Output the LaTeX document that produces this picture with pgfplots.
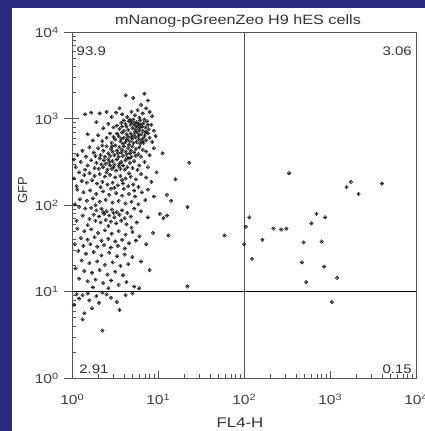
\documentclass[border=0pt]{standalone}
\usepackage{fontspec}
\setmainfont{Liberation Sans}[FakeStretch=1.2]
\newfontfamily\plainsans{Liberation Sans}
\usepackage{pgfplots}
\usepackage{pgfplotstable}
\pgfplotsset{compat=1.18}
\definecolor{bgblue}{RGB}{42,42,128}
\definecolor{dotblue}{RGB}{62,62,140}
\definecolor{halo}{RGB}{225,228,170}
\definecolor{axgray}{RGB}{85,85,85}

% values in decades (log10 of FL4-H and GFP)
\pgfplotstableread{
x y
0.62 3.27
0.71 3.24
0.84 3.29
0.88 3.21
0.80 3.16
0.86 3.12
0.76 3.10
0.69 3.08
0.58 3.05
0.64 3.02
0.73 3.04
0.82 3.06
0.90 3.08
0.51 3.07
0.40 3.08
0.32 3.06
0.22 3.07
0.15 3.05
0.46 3.02
0.78 3.01
0.93 3.03
0.55 3.12
0.60 2.98
0.66 2.97
0.71 2.99
0.75 2.96
0.79 2.98
0.83 2.95
0.87 2.97
0.68 2.93
0.73 2.92
0.77 2.94
0.81 2.91
0.85 2.90
0.63 2.91
0.57 2.95
0.52 2.92
0.70 2.89
0.74 2.88
0.78 2.87
0.82 2.86
0.89 2.88
0.65 2.87
0.60 2.86
0.55 2.88
0.48 2.90
0.42 2.94
0.92 2.93
0.76 2.91
0.72 2.95
0.80 2.93
0.84 2.99
0.67 2.99
0.62 2.94
0.88 2.93
0.36 2.89
0.28 2.96
0.95 2.86
0.58 2.91
0.69 2.96
0.86 2.85
0.79 2.90
0.58 2.84
0.63 2.82
0.68 2.83
0.72 2.81
0.76 2.84
0.80 2.82
0.84 2.80
0.88 2.83
0.54 2.80
0.60 2.78
0.65 2.79
0.70 2.77
0.74 2.78
0.78 2.76
0.82 2.77
0.86 2.75
0.50 2.76
0.56 2.74
0.62 2.73
0.67 2.74
0.71 2.72
0.75 2.73
0.79 2.71
0.83 2.72
0.46 2.72
0.40 2.78
0.35 2.74
0.30 2.81
0.44 2.83
0.90 2.78
0.93 2.73
0.66 2.70
0.59 2.71
0.52 2.83
0.73 2.85
0.81 2.74
0.64 2.76
0.77 2.80
0.69 2.79
0.85 2.84
0.57 2.77
0.24 2.75
0.18 2.82
0.97 2.80
0.48 2.79
0.50 2.69
0.55 2.67
0.60 2.68
0.65 2.66
0.70 2.68
0.74 2.65
0.78 2.67
0.82 2.64
0.45 2.65
0.40 2.68
0.36 2.63
0.42 2.60
0.47 2.62
0.52 2.63
0.57 2.61
0.62 2.62
0.67 2.60
0.72 2.61
0.77 2.59
0.86 2.62
0.30 2.66
0.25 2.61
0.33 2.58
0.38 2.56
0.44 2.57
0.49 2.58
0.54 2.56
0.59 2.57
0.64 2.55
0.69 2.56
0.74 2.57
0.80 2.56
0.90 2.58
0.20 2.67
0.12 2.63
0.06 2.58
0.16 2.56
0.58 2.64
0.63 2.59
0.46 2.68
0.68 2.63
0.53 2.60
0.35 2.69
0.95 2.66
0.27 2.57
0.32 2.54
0.37 2.52
0.42 2.53
0.47 2.51
0.52 2.53
0.57 2.50
0.62 2.52
0.67 2.49
0.72 2.51
0.28 2.49
0.34 2.47
0.39 2.48
0.44 2.46
0.49 2.47
0.54 2.45
0.59 2.46
0.64 2.44
0.22 2.52
0.18 2.46
0.10 2.50
0.04 2.44
0.26 2.43
0.31 2.42
0.36 2.44
0.41 2.41
0.46 2.42
0.51 2.40
0.56 2.42
0.61 2.41
0.70 2.43
0.78 2.46
0.84 2.50
0.88 2.44
0.15 2.41
0.43 2.50
0.55 2.48
0.48 2.44
0.66 2.54
0.76 2.41
0.02 2.53
0.08 2.38
0.14 2.35
0.20 2.37
0.26 2.34
0.32 2.36
0.38 2.33
0.44 2.35
0.50 2.32
0.56 2.34
0.62 2.31
0.68 2.33
0.74 2.30
0.80 2.36
0.86 2.32
0.11 2.28
0.17 2.26
0.23 2.29
0.29 2.25
0.35 2.27
0.41 2.24
0.47 2.26
0.53 2.23
0.59 2.25
0.65 2.22
0.71 2.24
0.77 2.21
0.05 2.22
0.92 2.27
0.98 2.38
0.40 2.38
0.58 2.29
0.33 2.21
0.49 2.20
0.02 2.31
0.66 2.37
0.06 2.18
0.13 2.15
0.21 2.17
0.28 2.13
0.36 2.16
0.43 2.12
0.51 2.14
0.58 2.11
0.66 2.13
0.73 2.10
0.81 2.15
0.88 2.18
0.09 2.07
0.17 2.05
0.24 2.08
0.32 2.04
0.39 2.06
0.47 2.03
0.54 2.05
0.62 2.02
0.69 2.04
0.77 2.01
0.85 2.06
0.03 2.01
0.95 2.10
0.45 2.19
0.60 2.19
0.27 2.00
1.10 2.12
0.72 2.17
0.08 1.98
0.15 1.96
0.22 1.97
0.28 1.94
0.34 1.96
0.40 1.93
0.46 1.95
0.52 1.92
0.58 1.94
0.64 1.91
0.72 1.96
0.80 1.93
0.25 1.89
0.31 1.87
0.37 1.90
0.43 1.88
0.49 1.86
0.55 1.89
0.61 1.85
0.68 1.87
0.20 1.84
0.27 1.82
0.33 1.80
0.39 1.83
0.45 1.81
0.51 1.79
0.57 1.82
0.63 1.78
0.12 1.88
0.05 1.82
0.88 1.86
1.02 1.90
1.06 1.85
1.10 1.88
0.75 1.80
0.42 1.76
0.36 1.92
0.48 1.91
1.34 1.98
0.18 1.77
0.06 1.73
0.14 1.70
0.22 1.72
0.30 1.68
0.38 1.71
0.46 1.67
0.54 1.70
0.62 1.66
0.70 1.69
0.78 1.64
0.10 1.62
0.18 1.60
0.26 1.63
0.34 1.59
0.42 1.61
0.50 1.58
0.58 1.60
0.66 1.56
0.74 1.59
0.03 1.55
0.13 1.53
0.21 1.55
0.29 1.52
0.37 1.54
0.45 1.51
0.53 1.53
0.61 1.50
0.86 1.55
0.94 1.68
0.69 1.74
0.07 1.47
0.16 1.44
0.25 1.46
0.34 1.42
0.43 1.45
0.52 1.41
0.61 1.43
0.70 1.40
0.11 1.36
0.20 1.33
0.29 1.35
0.38 1.31
0.47 1.34
0.56 1.30
0.65 1.32
0.80 1.35
0.04 1.27
0.14 1.24
0.23 1.22
0.32 1.25
0.41 1.20
0.50 1.23
0.59 1.19
0.08 1.15
0.18 1.12
0.27 1.14
0.36 1.10
0.45 1.13
0.54 1.08
0.63 1.11
0.24 1.05
0.42 1.04
0.72 1.06
0.90 1.25
1.36 2.49
1.12 1.65
1.20 2.30
1.05 2.60
1.15 2.05
1.77 1.65
0.78 1.04
1.34 1.06
}\ulpts

\pgfplotstableread{
x y
2.52 2.37
3.24 2.27
3.19 2.21
3.33 2.13
2.06 1.86
2.84 1.90
2.94 1.86
2.78 1.79
2.02 1.75
2.34 1.73
2.43 1.72
2.49 1.73
2.21 1.60
2.00 1.55
2.69 1.57
2.90 1.58
2.09 1.38
2.67 1.34
2.93 1.29
3.08 1.16
2.72 1.11
3.60 2.25
}\urpts

\pgfplotstableread{
x y
0.12 0.96
0.20 0.90
0.23 0.81
0.31 0.87
0.14 0.75
0.12 0.68
0.35 0.55
0.52 0.88
0.55 0.79
0.05 0.97
0.08 0.92
0.28 0.95
0.40 0.97
0.18 0.98
0.62 0.96
0.45 0.93
0.02 0.85
0.35 0.99
0.70 0.98
3.02 0.88
}\lowpts

\begin{document}
\begin{tikzpicture}[x=1pt,y=1pt]
\useasboundingbox (0,0) rectangle (425,431);
\fill[bgblue] (0,0) rectangle (425,431);
\fill[white] (12,0) rectangle (425,423);
\begin{axis}[
  at={(84,61)}, anchor=south west,
  scale only axis, width=344pt, height=346pt,
  xmin=0, xmax=4, ymin=0, ymax=4,
  axis line style={axgray, line width=1pt},
  xtick={0,1,2,3,4}, ytick={0,1,2,3,4},
  xticklabels={10\textsuperscript{0},10\textsuperscript{1},10\textsuperscript{2},10\textsuperscript{3},10\textsuperscript{4}},
  yticklabels={10\textsuperscript{0},10\textsuperscript{1},10\textsuperscript{2},10\textsuperscript{3},10\textsuperscript{4}},
  minor xtick={0.301,0.477,0.602,0.699,0.778,0.845,0.903,0.954,
    1.301,1.477,1.602,1.699,1.778,1.845,1.903,1.954,
    2.301,2.477,2.602,2.699,2.778,2.845,2.903,2.954,
    3.301,3.477,3.602,3.699,3.778,3.845,3.903,3.954},
  minor ytick={0.301,0.477,0.602,0.699,0.778,0.845,0.903,0.954,
    1.301,1.477,1.602,1.699,1.778,1.845,1.903,1.954,
    2.301,2.477,2.602,2.699,2.778,2.845,2.903,2.954,
    3.301,3.477,3.602,3.699,3.778,3.845,3.903,3.954},
  tick align=inside, xtick pos=left, ytick pos=left,
  major tick length=7pt, minor tick length=4pt,
  tick style={axgray, line width=0.8pt},
  ticklabel style={font=\fontsize{13}{15}\selectfont, text=black!75},
  yticklabel style={xshift=-10pt},
  xticklabel style={yshift=-12pt},
  extra y ticks={0,1,2,3,4}, extra y tick labels={},
  extra y tick style={tick align=outside, major tick length=8pt},
]
\draw[gray!65!black, line width=1pt] (axis cs:2,0) -- (axis cs:2,4);
\draw[black, line width=1.3pt] (axis cs:0,1) -- (axis cs:4,1);
\addplot[only marks, mark=*, mark size=1.8pt, mark options={draw=none, fill=halo, fill opacity=0.35}] table {\ulpts};
\addplot[only marks, mark=*, mark size=1.8pt, mark options={draw=none, fill=halo, fill opacity=0.35}] table {\urpts};
\addplot[only marks, mark=*, mark size=1.8pt, mark options={draw=none, fill=halo, fill opacity=0.35}] table {\lowpts};
\addplot[only marks, mark=*, mark size=0.6pt, mark options={draw=none, fill=dotblue}] table {\ulpts};
\addplot[only marks, mark=*, mark size=0.6pt, mark options={draw=none, fill=dotblue}] table {\urpts};
\addplot[only marks, mark=*, mark size=0.6pt, mark options={draw=none, fill=dotblue}] table {\lowpts};
\node[anchor=north west, inner sep=0pt, font=\fontsize{12.5}{14}\selectfont, text=black!80] at (axis cs:0.05,3.83) {93.9};
\node[anchor=north east, inner sep=0pt, font=\fontsize{12.5}{14}\selectfont, text=black!80] at (axis cs:3.95,3.83) {3.06};
\node[anchor=base west, inner sep=0pt, font=\fontsize{12.5}{14}\selectfont, text=black!80] at (axis cs:0.08,0.06) {2.91};
\node[anchor=base east, inner sep=0pt, font=\fontsize{12.5}{14}\selectfont, text=black!80] at (axis cs:3.95,0.06) {0.15};
\end{axis}
\node[anchor=base, inner sep=0pt, font=\fontsize{13.5}{16}\selectfont, text=black!80] at (238,406) {mNanog-pGreenZeo H9 hES cells};
\node[anchor=base, inner sep=0pt, font=\fontsize{14}{16}\selectfont, text=black!80] at (240,3) {FL4-H};
\node[rotate=90, anchor=base, inner sep=0pt, font=\plainsans\fontsize{13}{15}\selectfont, text=black!80] at (27,241) {GFP};
\end{tikzpicture}
\end{document}
